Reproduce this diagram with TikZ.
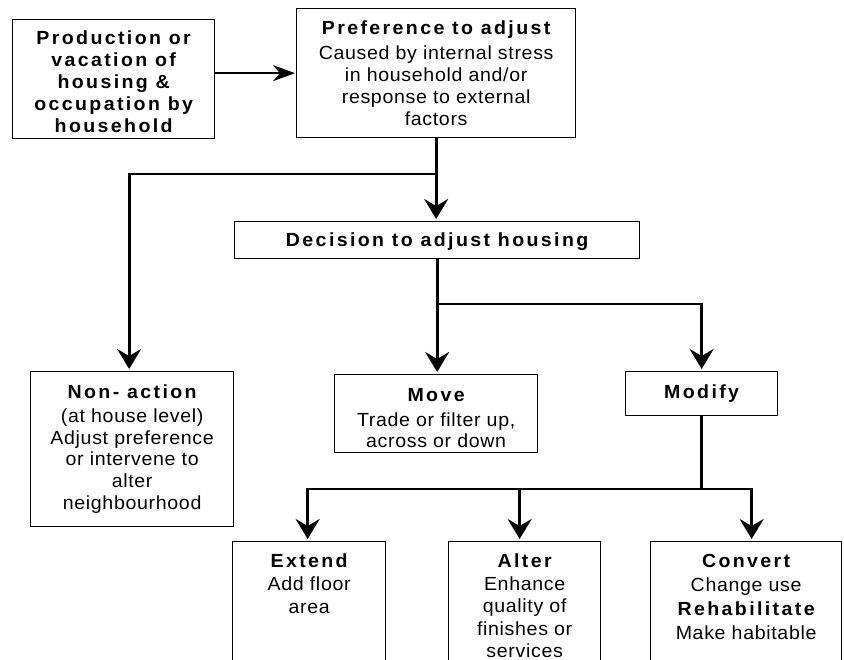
\documentclass[tikz,border=0pt]{standalone}
\usepackage{fontspec}
\setmainfont{Liberation Sans}[LetterSpace=3.5,FakeStretch=1.03]
\newfontfamily\ttlfont{Liberation Sans}[LetterSpace=12.5,FakeStretch=1.03]
\usetikzlibrary{arrows.meta}
\newcommand\ttl[1]{{\ttlfont\bfseries #1}}
\begin{document}
\begin{tikzpicture}[x=1pt,y=-1pt,
  font=\fontsize{19}{21.8}\selectfont,
  box/.style={draw, line width=1.3pt, anchor=north west, align=center, inner sep=0pt},
  txt/.style={anchor=north, align=center, inner sep=0pt, font=\fontsize{19}{23}\selectfont},
  varr/.style={line width=2.8pt, -{Stealth[length=20pt,width=24pt,inset=7pt]}, shorten >=2pt},
  harr/.style={line width=2pt, -{Stealth[length=22pt,width=16pt,inset=7pt]}, shorten >=1pt},
  vln/.style={line width=2.8pt},
  hln/.style={line width=2pt, line cap=rect}]
\useasboundingbox (0,0) rectangle (844,660);
\clip (0,0) rectangle (844,660);
\fill[white] (0,0) rectangle (844,660);

\node[box, minimum width=202, minimum height=119] (prod) at (12,19)
  {\rule{0pt}{19pt}\ttl{Production or}\\\ttl{vacation of}\\\ttl{housing \&}\\\ttl{occupation by}\\\ttl{household}};
\node[box, minimum width=279, minimum height=129] (pref) at (296,8)
  {\ttl{Preference to adjust}\\[3pt]Caused by internal stress\\in household and/or\\response to external\\factors};
\node[box, minimum width=405, minimum height=37] (dec) at (234,221)
  {\rule{0pt}{17pt}\ttl{Decision to adjust housing}};
\node[box, minimum width=203, minimum height=155] (na) at (30,371)
  {\ttl{Non- action}\\[2pt](at house level)\\Adjust preference\\or intervene to\\alter\\neighbourhood};
\node[box, minimum width=203, minimum height=78] (move) at (334,374)
  {\rule{0pt}{22pt}\ttl{Move}\\[3pt]Trade or filter up,\\across or down};
\node[box, minimum width=152, minimum height=44] (mod) at (625,371)
  {\ttl{Modify}};

\node[box, minimum width=153, minimum height=150] (ext) at (232,541) {};
\node[box, minimum width=152, minimum height=150] (alt) at (448,541) {};
\node[box, minimum width=191, minimum height=150] (conv) at (650,541) {};
\node[txt] (extT) at ([yshift=-13]ext.north) {\ttl{Extend}\\Add floor\\area};
\node[txt, font=\fontsize{19}{22.6}\selectfont] (altT) at ([yshift=-12.5]alt.north) {\ttl{Alter}\\Enhance\\quality of\\finishes or\\services};
\node[txt] (convT) at ([yshift=-13]conv.north) {\ttl{Convert}\\[1pt]Change use\\[1pt]\ttl{Rehabilitate}\\[1pt]Make habitable};

% connectors
\draw[harr] (pref.west -| prod.east) -- (pref.west);
\draw[varr] (pref.south) -- (pref.south |- dec.north);
\coordinate (j1) at (pref.south |- 0,174);
\coordinate (naT) at ([xshift=-3]na.north);
\draw[hln] (j1) -- (naT |- j1);
\draw[varr] ([yshift=1]naT |- j1) -- (naT);
\coordinate (j2) at (dec.south |- 0,304);
\draw[varr] (dec.south) -- (dec.south |- move.north);
\draw[hln] (j2) -- (mod.north |- j2);
\draw[varr] ([yshift=1]mod.north |- j2) -- (mod.north);
\coordinate (j3) at (mod.south |- 0,489);
\draw[vln] (mod.south) -- (j3);
\coordinate (extA) at ([xshift=-1.5]ext.north);
\coordinate (altA) at ([xshift=-5]alt.north);
\coordinate (convA) at ([xshift=5.5]conv.north);
\draw[hln] (extA |- j3) -- (convA |- j3);
\draw[varr] ([yshift=1]extA |- j3) -- (extA);
\draw[varr] (altA |- j3) -- (altA);
\draw[varr] ([yshift=1]convA |- j3) -- (convA);
\end{tikzpicture}
\end{document}
